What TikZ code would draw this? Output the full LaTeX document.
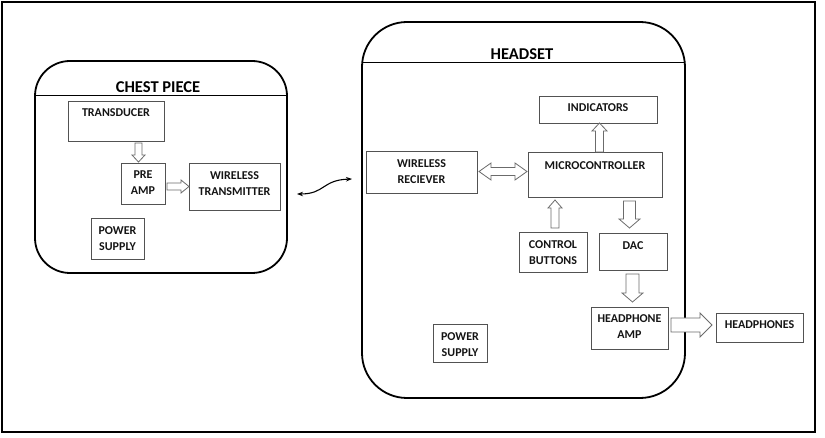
\documentclass[tikz,border=0pt]{standalone}
\usepackage{fontspec}
\setmainfont{Carlito}
\usetikzlibrary{calc,arrows.meta}
\tikzset{
  blk/.style={draw=black!68, line width=0.9pt, inner sep=0pt, outer sep=0pt},
  lbl/.style={anchor=north, align=center, inner sep=0pt, font=\bfseries\fontsize{12}{16}\selectfont, text=black!92},
  container/.style={draw=black, line width=1.8pt, inner sep=0pt, outer sep=0pt},
  ttl/.style={inner sep=0pt, font=\bfseries\fontsize{16.5}{18}\selectfont, text=black},
  barrowst/.style={draw=black!58, line width=0.8pt, fill=white, line join=miter},
  link/.style={draw=black, line width=1.1pt, {Stealth[length=6pt,width=4.5pt]}-{Stealth[length=6pt,width=4.5pt]}},
}
% name, x1, y1, x2, y2, text offset, text
\newcommand\mybox[7]{%
  \node[blk, minimum width={#4-#2}, minimum height={#5-#3},
        label={[lbl, yshift=-#6pt]north:{#7}}] (#1) at ({(#2+#4)/2},{(#3+#5)/2}) {};}
% from, to, shaft half, head half, head length
\newcommand\blockarrow[5]{%
  \path (#1) coordinate (baA) (#2) coordinate (baB);
  \path ($(baB)!#5pt!(baA)$) coordinate (baH);
  \draw[barrowst] ($(baA)!#3pt!90:(baB)$) -- ($(baH)!#3pt!90:(baB)$) -- ($(baH)!#4pt!90:(baB)$)
    -- (baB) -- ($(baH)!#4pt!-90:(baB)$) -- ($(baH)!#3pt!-90:(baB)$) -- ($(baA)!#3pt!-90:(baB)$) -- cycle;}
\newcommand\dblockarrow[5]{%
  \path (#1) coordinate (baA) (#2) coordinate (baB);
  \path ($(baA)!#5pt!(baB)$) coordinate (baHA) ($(baB)!#5pt!(baA)$) coordinate (baHB);
  \draw[barrowst] (baA) -- ($(baHA)!#4pt!90:(baB)$) -- ($(baHA)!#3pt!90:(baB)$) -- ($(baHB)!#3pt!90:(baB)$)
    -- ($(baHB)!#4pt!90:(baB)$) -- (baB) -- ($(baHB)!#4pt!-90:(baB)$) -- ($(baHB)!#3pt!-90:(baB)$)
    -- ($(baHA)!#3pt!-90:(baB)$) -- ($(baHA)!#4pt!-90:(baB)$) -- cycle;}
\begin{document}
\begin{tikzpicture}[x=1pt,y=-1pt]
\useasboundingbox (0,0) rectangle (825,438);
\draw[line width=1.5pt] (2,2) rectangle (815,432);

% containers
\node[container, rounded corners=35pt, minimum width=252, minimum height=212] (chest) at (161,167) {};
\draw[line width=0.8pt] (chest.west |- 0,95) -- (chest.east |- 0,95);
\node[ttl] (chestT) at (158,87) {CHEST PIECE};

\node[container, rounded corners=45pt, minimum width=323, minimum height=376] (headset) at (523.5,210) {};
\draw[line width=0.8pt] (headset.west |- 0,62) -- (headset.east |- 0,62);
\node[ttl] (headT) at (522,54) {HEADSET};

% chest boxes
\mybox{trans}{68}{101}{164}{141}{7.1}{TRANSDUCER}
\mybox{preamp}{121}{163}{165}{204}{7.1}{PRE\\AMP}
\mybox{wtx}{189}{163}{280}{210}{8.1}{WIRELESS\\TRANSMITTER}
\mybox{psC}{91}{218}{144}{259}{8.1}{POWER\\SUPPLY}

% headset boxes
\mybox{indic}{539}{96}{657}{123}{7.1}{INDICATORS}
\mybox{micro}{528}{152}{662}{197}{9.1}{MICROCONTROLLER}
\mybox{wrx}{366}{151}{477}{193}{8.1}{WIRELESS\\RECIEVER}
\mybox{ctrl}{519}{232}{587}{272}{8.1}{CONTROL\\BUTTONS}
\mybox{dac}{599}{233}{667}{270}{8.1}{DAC}
\mybox{hpamp}{591}{307}{668}{349}{7.1}{HEADPHONE\\AMP}
\mybox{psH}{433}{324}{487}{362}{8.1}{POWER\\SUPPLY}
\mybox{hp}{716}{313}{803}{342}{7.1}{HEADPHONES}

% block arrows
\blockarrow{$(trans.south)+(22.5,2)$}{$(preamp.north)+(-4.5,-1)$}{3.5}{6.5}{7}
\blockarrow{$(preamp.east)+(2,3)$}{wtx.west}{3.5}{6.5}{8}
\dblockarrow{$(wrx.east)+(2,-0.5)$}{$(micro.west)+(-1,-3)$}{4}{8.5}{12}
\blockarrow{$(micro.north)+(4.5,0)$}{$(indic.south)+(1.5,0)$}{4}{7.5}{8}
\blockarrow{$(ctrl.north)+(2,-4)$}{$(micro.south)+(-40,3)$}{4}{7}{8}
\blockarrow{$(micro.south)+(34.5,4)$}{$(dac.north)+(-3.5,-5)$}{6}{10.5}{9}
\blockarrow{$(dac.south)+(-0.5,4)$}{$(hpamp.north)+(3,-5)$}{6.5}{10.5}{9}
\blockarrow{$(hpamp.east)+(3,-3)$}{$(hp.west)+(-4,-2.5)$}{7}{12}{12}

% wireless link
\coordinate (lnkA) at ($(chest.east)+(10,27)$);
\coordinate (lnkB) at ($(headset.west)+(-10,-31)$);
\draw[link] (lnkA) .. controls ($(lnkA)+(28,0)$) and ($(lnkB)+(-30,1)$) .. (lnkB);
\end{tikzpicture}
\end{document}
